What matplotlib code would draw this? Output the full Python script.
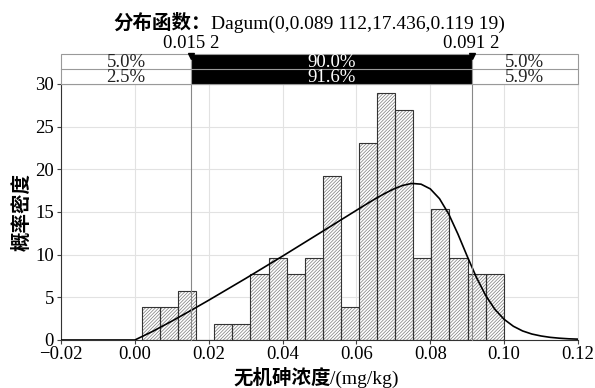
import matplotlib
matplotlib.use("Agg")
import matplotlib.pyplot as plt
import numpy as np

# histogram (density)
bin_edges = [0.0019, 0.0068, 0.0117, 0.0166, 0.0215, 0.0264, 0.0313, 0.0362, 0.0411, 0.0460,
             0.0509, 0.0558, 0.0607, 0.0656, 0.0705, 0.0754, 0.0803, 0.0852, 0.0901, 0.0950, 0.0999]
density = [3.85, 3.85, 5.78, 0.0, 1.93, 1.93, 7.70, 9.63, 7.70, 9.63,
           19.26, 3.85, 23.11, 28.89, 26.96, 9.63, 15.41, 9.63, 7.70, 7.70]

# fitted Dagum curve
curve_x = [-0.02, 0.0, 0.005, 0.01, 0.015, 0.02, 0.03, 0.04, 0.05, 0.06, 0.0625, 0.065, 0.0675,
           0.07, 0.0725, 0.075, 0.0775, 0.08, 0.0825, 0.085, 0.0875, 0.09, 0.0925, 0.095, 0.0975,
           0.1, 0.1025, 0.105, 0.1075, 0.11, 0.1125, 0.115, 0.1175, 0.12]
curve_y = [0.0, 0.0, 1.05, 2.21, 3.42, 4.66, 7.21, 9.83, 12.51, 15.20, 15.87, 16.52, 17.13,
           17.68, 18.11, 18.35, 18.26, 17.71, 16.56, 14.75, 12.40, 9.81, 7.33, 5.22, 3.59,
           2.42, 1.61, 1.06, 0.70, 0.47, 0.31, 0.21, 0.14, 0.10]

# 90% interval markers and the probability band
lo, hi = 0.0152, 0.0912
lo_label, hi_label = "0.015 2", "0.091 2"
band_top = ["5.0%", "90.0%", "5.0%"]
band_bot = ["2.5%", "91.6%", "5.9%"]

xticks = [-0.02, 0.0, 0.02, 0.04, 0.06, 0.08, 0.10, 0.12]
xticklabels = ["\u22120.02", "0.00", "0.02", "0.04", "0.06", "0.08", "0.10", "0.12"]
yticks = [0, 5, 10, 15, 20, 25, 30]

title_cn = "分布函数："
title_en = "Dagum(0,0.089 112,17.436,0.119 19)"
xlabel_cn = "无机砷浓度"
xlabel_en = "/(mg/kg)"
ylabel = "概率密度"

serif = ["Liberation Serif", "DejaVu Serif"]
cjk = ["Noto Sans CJK SC", "DejaVu Sans"]
plt.rcParams["font.family"] = serif
plt.rcParams["hatch.linewidth"] = 0.5

W, H = 595, 388
fig = plt.figure(figsize=(W / 100, H / 100), dpi=100)
ax = fig.add_axes([61 / W, 1 - 340 / H, 517 / W, 256 / H])

ax.set_xlim(-0.02, 0.12)
ax.set_ylim(0, 30)
ax.set_xticks(xticks)
ax.set_xticklabels(xticklabels)
ax.set_yticks(yticks)
ax.tick_params(labelsize=13.5, length=3, color="#444")
ax.tick_params(axis="x", pad=1)
ax.tick_params(axis="y", pad=2)
ax.grid(True, color="#e2e2e2", lw=0.8)
ax.set_axisbelow(True)
for s in ["left", "bottom"]:
    ax.spines[s].set_color("#333")
ax.spines["top"].set_color("#aaa")
ax.spines["right"].set_color("#ddd")

lefts = bin_edges[:-1]
widths = np.diff(bin_edges)
ax.bar(lefts, density, width=widths, align="edge", facecolor="white",
       edgecolor="#7a7a7a", hatch="//////////", lw=0, zorder=2)
ax.bar(lefts, density, width=widths, align="edge", fill=False,
       edgecolor="#333", lw=0.8, zorder=3)

ax.plot(curve_x, curve_y, color="black", lw=1.2, zorder=4)

# interval lines and band above the axes
trans = ax.get_xaxis_transform()
row = 15 / 256
for v in (lo, hi):
    ax.plot([v, v], [0, 1 + 2 * row], color="#888", lw=0.8, transform=trans, clip_on=False, zorder=5)
    ax.plot([v], [1 + 2 * row - 0.008], marker="v", ms=4, color="black", transform=trans,
            clip_on=False, zorder=6)
ax.text(lo, 1 + 2 * row + 0.008, lo_label, transform=trans, ha="center", va="bottom", fontsize=13.5)
ax.text(hi, 1 + 2 * row + 0.008, hi_label, transform=trans, ha="center", va="bottom", fontsize=13.5)

cells = [(-0.02, lo), (lo, hi), (hi, 0.12)]
for i, (a, b) in enumerate(cells):
    dark = i == 1
    ax.add_patch(plt.Rectangle((a, 1), b - a, 2 * row, transform=trans, clip_on=False,
                               facecolor="black" if dark else "white", edgecolor="#999", lw=0.8, zorder=5))
    ax.plot([a, b], [1 + row, 1 + row], transform=trans, color="#999", lw=0.8, clip_on=False, zorder=5)
    c = "white" if dark else "#222"
    ax.text((a + b) / 2, 1 + 1.5 * row - 0.004, band_top[i], transform=trans, ha="center",
            va="center", fontsize=13.5, color=c, zorder=7)
    ax.text((a + b) / 2, 1 + 0.5 * row - 0.004, band_bot[i], transform=trans, ha="center",
            va="center", fontsize=13.5, color=c, zorder=7)

ax.set_ylabel(ylabel, family=cjk, fontweight="bold", fontsize=14, labelpad=3)


def mixed(xc, yb, parts):
    texts = [fig.text(0, yb, s, va="baseline", ha="left", **kw) for s, kw in parts]
    fig.canvas.draw()
    r = fig.canvas.get_renderer()
    ws = [t.get_window_extent(r).width for t in texts]
    x0 = xc * W - sum(ws) / 2
    for t, w in zip(texts, ws):
        t.set_x(x0 / W)
        x0 += w


mixed(309 / W, 1 - 29 / H, [(title_cn, dict(family=cjk, fontweight="bold", fontsize=14)),
                             (title_en, dict(family=serif, fontsize=14))])
mixed(316 / W, 1 - 384 / H, [(xlabel_cn, dict(family=cjk, fontweight="bold", fontsize=14)),
                              (xlabel_en, dict(family=serif, fontsize=14))])

fig.savefig("out.png", dpi=100)
